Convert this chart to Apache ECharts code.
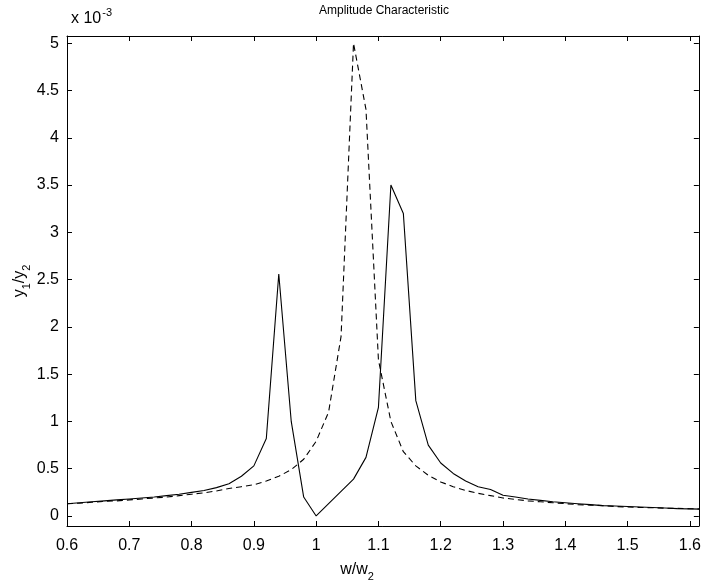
<!DOCTYPE html>
<html>
<head>
<meta charset="utf-8">
<script src="https://cdn.jsdelivr.net/npm/echarts@6/dist/echarts.min.js"></script>
<style>html,body{margin:0;padding:0;background:#fff}#c{width:704px;height:586px}</style>
</head>
<body>
<div id="c"></div>
<script>
// frequency ratio w/w2
var freq = [0.60,0.62,0.64,0.66,0.68,0.70,0.72,0.74,0.76,0.78,0.80,0.82,0.84,0.86,0.88,0.90,0.92,0.94,0.96,0.98,1.00,1.02,1.04,1.06,1.08,1.10,1.12,1.14,1.16,1.18,1.20,1.22,1.24,1.26,1.28,1.30,1.32,1.34,1.36,1.38,1.40,1.42,1.44,1.46,1.48,1.50,1.52,1.54,1.56,1.58,1.60,1.62];
// y1/y2 (x 10^-3), solid curve
var solid = [0.13,0.14,0.15,0.16,0.17,0.18,0.19,0.20,0.215,0.23,0.25,0.27,0.30,0.34,0.42,0.53,0.82,2.56,1.00,0.20,0.00,0.13,0.26,0.39,0.62,1.15,3.50,3.20,1.22,0.75,0.56,0.45,0.37,0.31,0.28,0.22,0.20,0.18,0.165,0.15,0.14,0.13,0.12,0.11,0.105,0.10,0.095,0.09,0.085,0.078,0.075,0.072];
// y1/y2 (x 10^-3), dashed curve
var dashed = [0.13,0.135,0.145,0.155,0.16,0.17,0.18,0.19,0.20,0.215,0.23,0.245,0.265,0.29,0.31,0.33,0.37,0.42,0.49,0.60,0.79,1.10,1.90,5.00,4.30,1.65,1.00,0.68,0.53,0.43,0.36,0.31,0.27,0.24,0.215,0.19,0.175,0.16,0.15,0.14,0.13,0.12,0.115,0.11,0.10,0.095,0.09,0.087,0.083,0.08,0.077,0.074];
// tick labels
var xTicks = [0.6,0.7,0.8,0.9,1.0,1.1,1.2,1.3,1.4,1.5,1.6];
var yTicks = [0,0.5,1,1.5,2,2.5,3,3.5,4,4.5,5];

var FONT = '"Liberation Sans", Arial, sans-serif';
function pairs(ys){ return freq.map(function(x,i){ return [x, ys[i]]; }); }
function fmt(v){ return String(Math.round(v*10)/10); }

var chart = echarts.init(document.getElementById('c'), null, {renderer:'canvas'});
function common(){
  return {axisLine:{show:true, onZero:false, lineStyle:{color:'#000', width:1}}, splitLine:{show:false}};
}
function xAxis(pos, labels){
  return Object.assign({
    type:'value', position:pos, min:0.6, max:1.6144,
    axisTick:{show:true, inside:true, length:5, lineStyle:{color:'#000'}, customValues:xTicks},
    axisLabel:{show:labels, customValues:xTicks, formatter:fmt, color:'#000', fontSize:16, fontFamily:FONT, margin:12}
  }, common());
}
function yAxis(pos, labels){
  return Object.assign({
    type:'value', position:pos, min:-0.106, max:5.077,
    axisTick:{show:true, inside:true, length:5, lineStyle:{color:'#000'}, customValues:yTicks},
    axisLabel:{show:labels, customValues:yTicks, formatter:fmt, color:'#000', fontSize:16, fontFamily:FONT, margin:8}
  }, common());
}
var sub = {
  n:{fontSize:16, fontFamily:FONT, fill:'#000', verticalAlign:'bottom', padding:[0,0,5,0]},
  s:{fontSize:11, fontFamily:FONT, fill:'#000', verticalAlign:'bottom'}
};

chart.setOption({
  animation:false,
  backgroundColor:'#fff',
  grid:{left:67, top:36, width:632, height:490, containLabel:false},
  xAxis:[xAxis('bottom', true), xAxis('top', false)],
  yAxis:[yAxis('left', true), yAxis('right', false)],
  graphic:[
    {type:'text', x:384, y:11, style:{text:'Amplitude Characteristic', fill:'#000', font:'12px '+FONT, align:'center', verticalAlign:'middle'}},
    {type:'text', x:71, y:27, style:{text:'{n|x 10}{p|-3}', verticalAlign:'bottom', rich:{
      n:{fontSize:16, fontFamily:FONT, fill:'#000', verticalAlign:'bottom'},
      p:{fontSize:11, fontFamily:FONT, fill:'#000', verticalAlign:'bottom', padding:[0,0,9,1]}}}},
    {type:'text', x:357, y:572, style:{text:'{n|w/w}{s|2}', align:'center', verticalAlign:'middle', rich:sub}},
    {type:'text', x:22, y:281, rotation:Math.PI/2, style:{text:'{n|y}{s|1}{n|/y}{s|2}', align:'center', verticalAlign:'middle', rich:sub}}
  ],
  series:[
    {type:'line', data:pairs(solid), xAxisIndex:0, yAxisIndex:0, showSymbol:false, symbol:'none', clip:true,
     lineStyle:{color:'#000', width:1.1, type:'solid'}},
    {type:'line', data:pairs(dashed), xAxisIndex:0, yAxisIndex:0, showSymbol:false, symbol:'none', clip:true,
     lineStyle:{color:'#000', width:1.1, type:[6,4]}}
  ]
});
</script>
</body>
</html>
